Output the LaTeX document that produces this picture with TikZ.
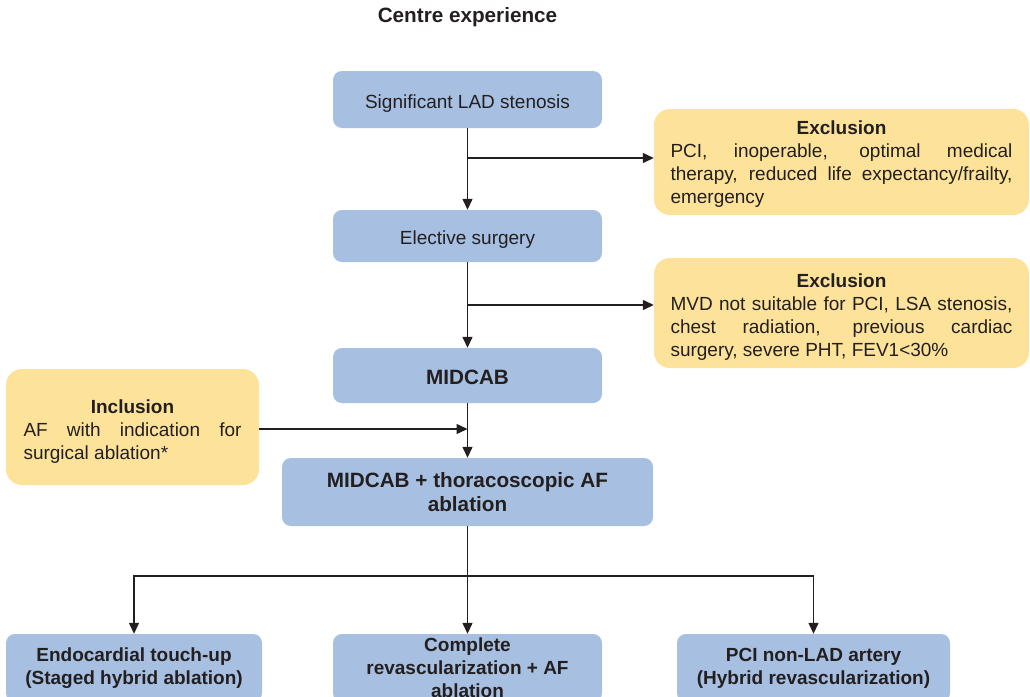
\documentclass[tikz,border=0pt]{standalone}
\usepackage{fontspec}
\setmainfont{Liberation Sans}
\usetikzlibrary{arrows.meta}
\definecolor{boxblue}{RGB}{167,191,224}
\definecolor{boxyellow}{RGB}{253,227,153}
\definecolor{ink}{RGB}{35,31,32}

% justified note text with a centred bold heading; #1 lowers the text block
\newcommand{\notetext}[4]{\parbox{#2}{\vspace*{#1}\hyphenpenalty=10000\exhyphenpenalty=10000
  {\centering\bfseries #3\par}#4}}

\begin{document}
\begin{tikzpicture}[x=1pt,y=-1pt,
  every node/.style={text=ink, font=\fontsize{19}{23}\selectfont},
  stepbox/.style={fill=boxblue, rounded corners=9pt, align=center, inner sep=0pt},
  oneline/.style={text height=17pt, text depth=0pt},
  bigbold/.style={font=\fontsize{20.7}{24}\selectfont\bfseries},
  smallbold/.style={font=\fontsize{19}{23}\selectfont\bfseries},
  notebox/.style={fill=boxyellow, rounded corners=16pt, inner sep=0pt},
  arr/.style={draw=ink, line width=1.3pt, -{Triangle[length=11pt,width=10pt]}},
  plainline/.style={draw=ink, line width=1.3pt}]
\clip (0,0) rectangle (1030,696);
\fill[white] (0,0) rectangle (1030,696);

% heading
\node[bigbold] (title) at (467.5,17) {Centre experience};

% main pathway
\node[stepbox, oneline, minimum width=269pt, minimum height=57pt] (b1) at (467.5,99.5) {Significant LAD stenosis};
\node[stepbox, oneline, minimum width=269pt, minimum height=52pt] (b2) at (467.5,236) {Elective surgery};
\node[stepbox, oneline, bigbold, minimum width=269pt, minimum height=55pt] (b3) at (467.5,375.5) {MIDCAB};
\node[stepbox, bigbold, minimum width=371pt, minimum height=68pt] (b4) at (467.5,492) {MIDCAB + thoracoscopic AF\\ablation};

% outcomes
\node[stepbox, smallbold, minimum width=256pt, minimum height=68pt] (o1) at (134,668) {Endocardial touch-up\\(Staged hybrid ablation)};
\node[stepbox, smallbold, minimum width=269pt, minimum height=68pt] (o2) at (467.5,668) {Complete\\revascularization + AF\\ablation};
\node[stepbox, smallbold, minimum width=273pt, minimum height=68pt] (o3) at (813.5,668) {PCI non-LAD artery\\(Hybrid revascularization)};

% criteria
\node[notebox, minimum width=375pt, minimum height=106pt] (ex1) at (841.5,162)
  {\notetext{4pt}{342pt}{Exclusion}{PCI, inoperable, optimal medical\linebreak
   therapy, reduced life expectancy/frailty,\linebreak emergency}};
\node[notebox, minimum width=375pt, minimum height=110pt] (ex2) at (841.5,313)
  {\notetext{8pt}{342pt}{Exclusion}{MVD not suitable for PCI, LSA stenosis,\linebreak
   chest radiation, previous cardiac\linebreak surgery, severe PHT, FEV1<30\%}};
\node[notebox, minimum width=253pt, minimum height=116pt] (incl) at (132.5,427)
  {\notetext{10pt}{218pt}{Inclusion}{AF with indication for\linebreak surgical ablation*}};

% connectors
\coordinate (j1) at (467.5,158);
\coordinate (j2) at (467.5,305);
\coordinate (j3) at (467.5,429);
\coordinate (fk) at (467.5,576);

\draw[arr] (b1) -- (b2);
\draw[arr] (j1) -- (j1 -| ex1.west);
\draw[arr] (b2) -- (b3);
\draw[arr] (j2) -- (j2 -| ex2.west);
\draw[arr] (b3) -- (b4);
\draw[arr] (incl.east |- j3) -- (j3);
\draw[plainline] (b4) -- (fk);
\draw[arr] (fk) -| (o1);
\draw[arr] (fk) -- (o2);
\draw[arr] (fk) -| (o3);
\end{tikzpicture}
\end{document}
